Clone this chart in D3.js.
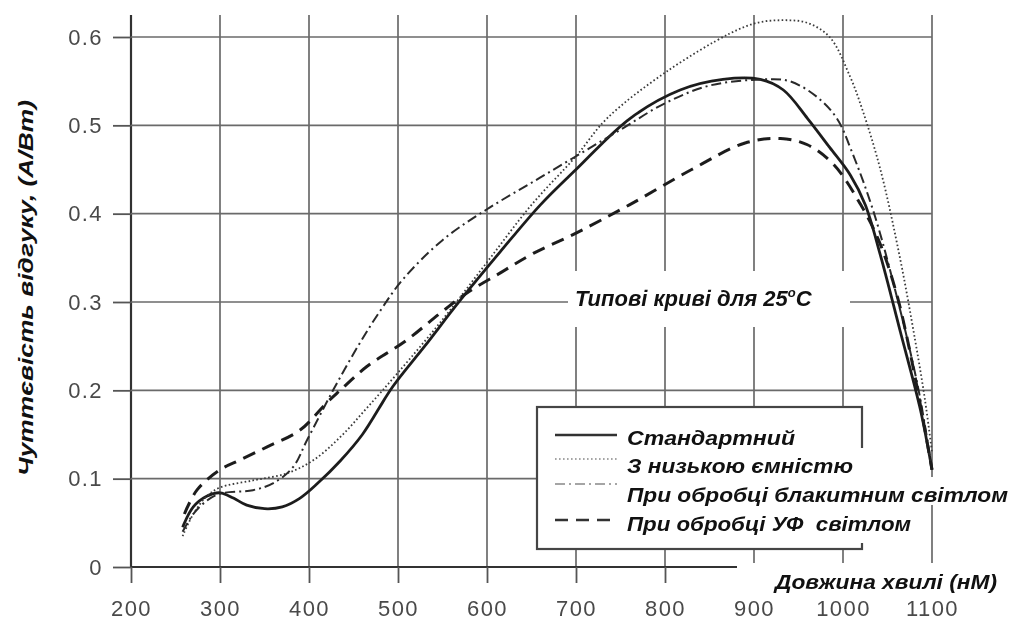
<!DOCTYPE html>
<html>
<head>
<meta charset="utf-8">
<script src="https://cdn.jsdelivr.net/npm/d3@7"></script>
<style>
  html, body { margin: 0; padding: 0; background: #fff; }
  svg { display: block; }
  .note { font-family: "Liberation Sans", Arial, sans-serif; font-weight: bold; font-style: italic; fill: #111; }
  .tick text { font-family: "Liberation Sans", Arial, sans-serif; fill: #4a4a4a; }
</style>
</head>
<body>
<svg id="chart" width="1017" height="622"></svg>
<script>
// Spectral responsivity of silicon photodiodes, A/W vs wavelength, nm
const xTicks = [200, 300, 400, 500, 600, 700, 800, 900, 1000, 1100];
const yTicks = [0, 0.1, 0.2, 0.3, 0.4, 0.5, 0.6];

const standard = [
  [258, 0.045], [270, 0.068], [285, 0.08], [300, 0.084], [315, 0.078], [330, 0.07],
  [350, 0.066], [370, 0.068], [390, 0.078], [410, 0.095], [435, 0.12], [460, 0.15],
  [494, 0.204], [530, 0.25], [570, 0.302], [615, 0.357], [660, 0.41], [700, 0.45],
  [761, 0.508], [817, 0.54], [865, 0.552], [907, 0.552], [933, 0.54], [960, 0.508],
  [985, 0.475], [1008, 0.444], [1025, 0.41], [1042, 0.353], [1064, 0.268],
  [1087, 0.178], [1100, 0.11]
];
const lowCapacitance = [
  [258, 0.035], [270, 0.06], [285, 0.08], [300, 0.09], [337, 0.098], [375, 0.106],
  [405, 0.121], [435, 0.147], [465, 0.18], [500, 0.22], [550, 0.28], [600, 0.345],
  [650, 0.41], [700, 0.465], [735, 0.508], [802, 0.561], [873, 0.604], [903, 0.616],
  [932, 0.619], [960, 0.616], [985, 0.6], [1008, 0.555], [1022, 0.517], [1042, 0.45],
  [1064, 0.35], [1081, 0.257], [1092, 0.19], [1100, 0.13]
];
const blueEnhanced = [
  [258, 0.04], [270, 0.06], [285, 0.075], [300, 0.083], [337, 0.087], [360, 0.095],
  [382, 0.113], [398, 0.144], [427, 0.2], [455, 0.25], [480, 0.29], [505, 0.325],
  [550, 0.37], [600, 0.405], [650, 0.435], [700, 0.465], [750, 0.495], [800, 0.525],
  [850, 0.545], [910, 0.552], [940, 0.55], [971, 0.532], [993, 0.508], [1010, 0.47],
  [1035, 0.4], [1062, 0.3], [1085, 0.2], [1100, 0.11]
];
const uvEnhanced = [
  [260, 0.06], [274, 0.087], [300, 0.11], [322, 0.121], [353, 0.136], [390, 0.155],
  [420, 0.186], [435, 0.2], [465, 0.227], [510, 0.257], [547, 0.287], [577, 0.31],
  [615, 0.333], [652, 0.355], [700, 0.378], [760, 0.41], [830, 0.45], [890, 0.48],
  [930, 0.485], [960, 0.478], [990, 0.455], [1020, 0.41], [1040, 0.37], [1060, 0.31],
  [1080, 0.22], [1100, 0.11]
];

const seriesNames = [
  "Стандартний",
  "З низькою ємністю",
  "При обробці блакитним світлом",
  "При обробці УФ  світлом"
];
const seriesData = [standard, lowCapacitance, blueEnhanced, uvEnhanced];
const seriesStyles = [
  { width: 2.8, dash: null, color: "#1e1e1e" },
  { width: 1.8, dash: "1.6,2.4", color: "#3a3a3a" },
  { width: 2.0, dash: "10,4,2,4", color: "#2a2a2a" },
  { width: 3.0, dash: "13,8", color: "#1e1e1e" }
];

const svg = d3.select("#chart");
svg.append("rect").attr("width", 1017).attr("height", 622).attr("fill", "#fff");

const defs = svg.append("defs");
defs.append("filter").attr("id", "soft")
  .attr("x", "-5%").attr("y", "-5%").attr("width", "110%").attr("height", "110%")
  .append("feGaussianBlur").attr("stdDeviation", 0.75);

const x = d3.scaleLinear().domain([200, 1100]).range([131, 932]);
const y = d3.scaleLinear().domain([0, 0.6]).range([567, 37]);

const plot = svg.append("g").attr("filter", "url(#soft)");

// grid
const yTop = y(0.625);
plot.append("g").selectAll("line").data(xTicks).join("line")
  .attr("x1", d => x(d)).attr("x2", d => x(d))
  .attr("y1", yTop).attr("y2", y(0))
  .attr("stroke", d => d === 200 ? "#333" : "#6a6a6a")
  .attr("stroke-width", d => d === 200 ? 2.2 : 1.7);
plot.append("g").selectAll("line").data(yTicks).join("line")
  .attr("x1", x(200)).attr("x2", x(1100))
  .attr("y1", d => y(d)).attr("y2", d => y(d))
  .attr("stroke", d => d === 0 ? "#333" : "#6a6a6a")
  .attr("stroke-width", d => d === 0 ? 2.2 : 1.7);

// axes
const xAxis = d3.axisBottom(x).tickValues(xTicks).tickSize(16).tickPadding(17).tickFormat(d3.format("d"));
const yAxis = d3.axisLeft(y).tickValues(yTicks).tickSize(18).tickPadding(10)
  .tickFormat(d => d === 0 ? "0" : d.toFixed(1));

const gx = plot.append("g").attr("transform", `translate(0,${y(0)})`).call(xAxis);
const gy = plot.append("g").attr("transform", `translate(${x(200)},0)`).call(yAxis);
[gx, gy].forEach(g => {
  g.select(".domain").remove();
  g.selectAll(".tick line").attr("stroke", "#555").attr("stroke-width", 1.8);
  g.selectAll(".tick text").attr("font-size", 22).attr("letter-spacing", 1.4);
});

// curves
const line = d3.line().x(d => x(d[0])).y(d => y(d[1])).curve(d3.curveCatmullRom.alpha(0.5));
plot.append("g").selectAll("path").data(seriesData).join("path")
  .attr("d", d => line(d))
  .attr("fill", "none")
  .attr("stroke", (d, i) => seriesStyles[i].color)
  .attr("stroke-width", (d, i) => seriesStyles[i].width)
  .attr("stroke-dasharray", (d, i) => seriesStyles[i].dash)
  .attr("stroke-linecap", "butt")
  .attr("stroke-linejoin", "round");

// legend frame and samples
const legend = plot.append("g");
legend.append("rect")
  .attr("x", 537).attr("y", 407).attr("width", 325).attr("height", 142)
  .attr("fill", "#fff").attr("stroke", "#444").attr("stroke-width", 2.2);
const sampleY = [435, 459, 484, 520];
legend.selectAll("line.sample").data(seriesStyles).join("line")
  .attr("class", "sample")
  .attr("x1", 555).attr("x2", 617)
  .attr("y1", (d, i) => sampleY[i]).attr("y2", (d, i) => sampleY[i])
  .attr("stroke", (d, i) => i === 0 || i === 3 ? "#333" : "#888")
  .attr("stroke-width", (d, i) => i === 0 ? 2.4 : (i === 3 ? 2.6 : 1.5))
  .attr("stroke-dasharray", d => d.dash);

// overlaid captions on white patches
const notes = svg.append("g");

const labelBoxes = [
  { x: 622, y: 420, w: 233, h: 28 },
  { x: 622, y: 448, w: 301, h: 29 },
  { x: 622, y: 477, w: 395, h: 28 },
  { x: 622, y: 505, w: 296, h: 38 }
];
const labelBase = [445, 473, 502, 531];
const labelWidth = [168, 226, 381, 284];
notes.selectAll("rect.lb").data(labelBoxes).join("rect")
  .attr("class", "lb")
  .attr("x", d => d.x).attr("y", d => d.y).attr("width", d => d.w).attr("height", d => d.h)
  .attr("fill", "#fff");
notes.selectAll("text.lt").data(seriesNames).join("text")
  .attr("class", "note lt")
  .attr("x", 627).attr("y", (d, i) => labelBase[i])
  .attr("font-size", 21)
  .attr("textLength", (d, i) => labelWidth[i])
  .attr("lengthAdjust", "spacingAndGlyphs")
  .style("white-space", "pre")
  .text(d => d);

// plot caption
notes.append("rect").attr("x", 568).attr("y", 271).attr("width", 282).attr("height", 56).attr("fill", "#fff");
const cap = notes.append("text").attr("class", "note").attr("x", 575).attr("y", 306).attr("font-size", 22);
cap.append("tspan").text("Типові криві для 25");
cap.append("tspan").attr("font-size", 13).attr("dy", -9).text("o");
cap.append("tspan").attr("dy", 9).text("C");

// axis titles
notes.append("rect").attr("x", 737).attr("y", 563).attr("width", 280).attr("height", 35).attr("fill", "#fff");
notes.append("text").attr("class", "note").attr("x", 775).attr("y", 589).attr("font-size", 21)
  .attr("textLength", 222).attr("lengthAdjust", "spacingAndGlyphs")
  .text("Довжина хвилі (нМ)");

notes.append("text").attr("class", "note")
  .attr("transform", "translate(33,288) rotate(-90)")
  .attr("text-anchor", "middle").attr("font-size", 21)
  .attr("textLength", 376).attr("lengthAdjust", "spacingAndGlyphs")
  .text("Чуттєвість відгуку, (А/Вт)");
</script>
</body>
</html>
